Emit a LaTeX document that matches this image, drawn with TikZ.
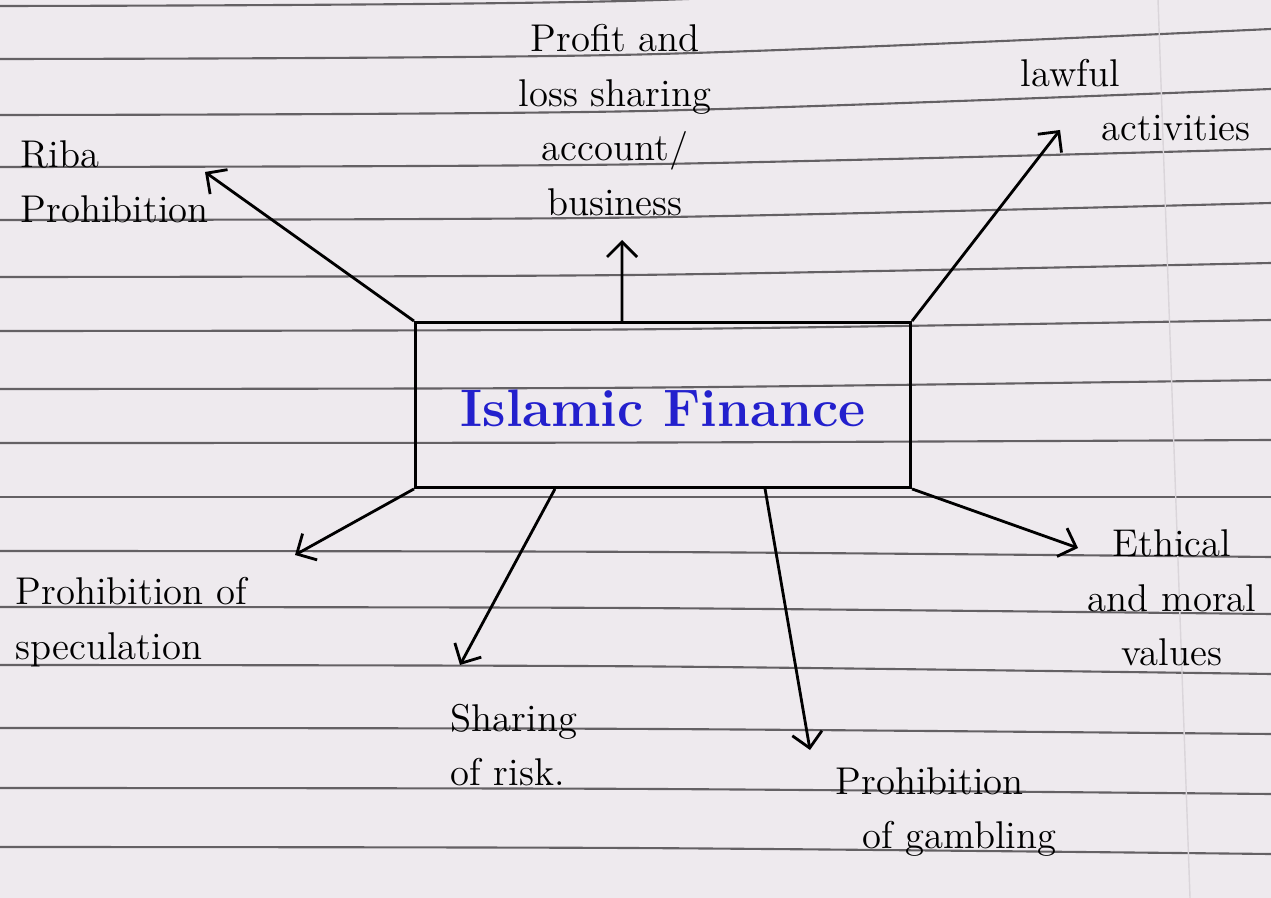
\documentclass[tikz,border=0pt]{standalone}
\usetikzlibrary{arrows.meta}
\definecolor{inkblue}{RGB}{35,32,205}
\definecolor{paper}{RGB}{238,234,238}
\definecolor{ruling}{RGB}{100,97,100}
\definecolor{margin}{RGB}{218,213,218}

\begin{document}
\begin{tikzpicture}[x=0.01cm, y=-0.01cm,
    lbl/.style={font=\fontsize{11}{15.5}\selectfont, inner sep=0pt},
    arr/.style={-{Straight Barb[length=1.5mm,width=3mm]}, thick},
    hub/.style={draw, thick, minimum width=4.95cm, minimum height=1.65cm,
        font=\fontsize{15}{18}\selectfont\bfseries, text=inkblue}]

    % Paper, ruled lines and faint margin
    \clip (0,0) rectangle (1271,898);
    \fill[paper] (0,0) rectangle (1271,898);
    \foreach \yl/\yr in {6/-30, 59/29, 115/89, 167/149, 220/203, 277/263, 331/320, 389/380,
                         443/440, 497/497, 551/557, 607/614, 665/674, 728/734, 788/794, 847/854}
        \draw[ruling, line width=0.6pt] plot[smooth] coordinates {(0,\yl) (640,\yl+0.15*\yr-0.15*\yl) (1271,\yr)};
    \draw[margin, line width=0.4pt] (1158,0) -- (1190,898);

    % Central box
    \node[hub, text height=1.25em] (fin) at (663,405) {Islamic Finance};

    % Arrow tips
    \coordinate (ribaTip) at (205,172);
    \coordinate (plsTip) at (622,240);
    \coordinate (lawTip) at (1060,130);
    \coordinate (ethTip) at (1078,548);
    \coordinate (specTip) at (295,555);
    \coordinate (riskTip) at (460,665);
    \coordinate (gambTip) at (810,750);

    % Labels
    \node[lbl, align=left, anchor=west] (riba) at (20,182) {Riba\\Prohibition};
    \node[lbl, align=center] (pls) at (615,120) {Profit and\\loss sharing\\account/\\business};
    \node[lbl, align=left, anchor=west] (law) at (1020,100) {lawful\\\hspace*{2.1em}activities};
    \node[lbl, align=center] (eth) at (1172,598) {Ethical\\and moral\\values};
    \node[lbl, align=left, anchor=west] (spec) at (15,622) {Prohibition of\\speculation};
    \node[lbl, align=left, anchor=west] (risk) at (450,745) {Sharing\\of risk.};
    \node[lbl, align=left, anchor=west] (gamb) at (835,812) {Prohibition\\\hspace*{0.7em}of gambling};

    % Arrows out of the box
    \draw[arr] (fin.north west) -- (ribaTip);
    \draw[arr] ([xshift=-0.41cm]fin.north) -- (plsTip);
    \draw[arr] (fin.north east) -- (lawTip);
    \draw[arr] (fin.south east) -- (ethTip);
    \draw[arr] (fin.south west) -- (specTip);
    \draw[arr] ([xshift=-1.08cm]fin.south) -- (riskTip);
    \draw[arr] ([xshift=1.02cm]fin.south) -- (gambTip);

\end{tikzpicture}
\end{document}
